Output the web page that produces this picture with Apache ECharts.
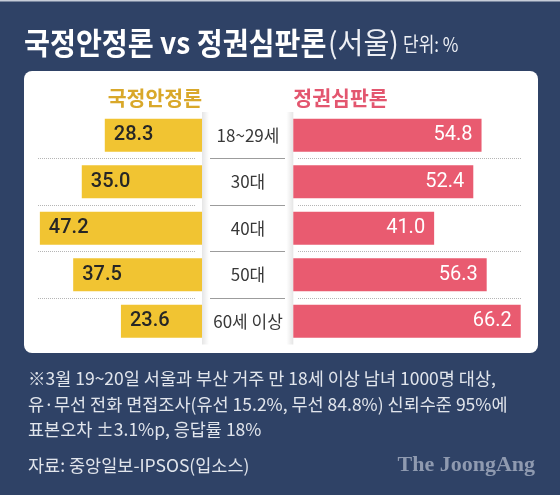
<!DOCTYPE html>
<html>
<head>
<meta charset="utf-8">
<script src="https://cdn.jsdelivr.net/npm/echarts@6/dist/echarts.min.js"></script>
<style>
html,body{margin:0;padding:0;background:#2f4266;}
#chart{width:560px;height:495px;}
</style>
</head>
<body>
<div id="chart"></div>
<script>
const categories = ['18~29세', '30대', '40대', '50대', '60세 이상'];
const stabilityValues = [28.3, 35.0, 47.2, 37.5, 23.6];   // 국정안정론
const judgmentValues = [54.8, 52.4, 41.0, 56.3, 66.2];    // 정권심판론
const seriesNames = ['국정안정론', '정권심판론'];
const titleMain = '국정안정론 vs 정권심판론';
const titleRegion = '(서울)';
const titleUnit = '단위: %';
const footnoteLines = [
  '※3월 19~20일 서울과 부산 거주 만 18세 이상 남녀 1000명 대상,',
  '유·무선 전화 면접조사(유선 15.2%, 무선 84.8%) 신뢰수준 95%에',
  '표본오차 ±3.1%p, 응답률 18%'
];
const sourceText = '자료: 중앙일보-IPSOS(입소스)';
const logoText = 'The JoongAng';

const FONT = "Roboto, 'Noto Sans CJK KR', sans-serif";
const KFONT = "'Noto Sans CJK KR', sans-serif";
const YELLOW = '#f1c432';
const PINK = '#e95b70';

const chart = echarts.init(document.getElementById('chart'), null, {renderer: 'canvas'});

const TOP = 112, HEIGHT = 232.5;
const UNIT = 3.435;
const LEFT_MAX = 50, RIGHT_MAX = 70;
const leftEdge = 202;
const rightStart = 293.3;

function catAxis(grid, extra) {
  return Object.assign({
    type: 'category', gridIndex: grid, data: categories, inverse: true,
    axisLine: {show: false}, axisTick: {show: false}, axisLabel: {show: false},
    splitLine: {show: false}
  }, extra || {});
}
function valAxis(grid, extra) {
  return Object.assign({
    type: 'value', gridIndex: grid, show: false, min: 0, max: 1
  }, extra || {});
}
function sepAxis(grid, lineStyle) {
  return catAxis(grid, {
    splitLine: {show: true, showMinLine: false, showMaxLine: false, lineStyle: lineStyle}
  });
}

const option = {
  backgroundColor: '#2f4266',
  animation: false,
  grid: [
    {left: leftEdge - LEFT_MAX * UNIT, width: LEFT_MAX * UNIT, top: TOP, height: HEIGHT},
    {left: rightStart, width: RIGHT_MAX * UNIT, top: TOP, height: HEIGHT},
    {left: 38, width: 157, top: TOP, height: HEIGHT},
    {left: 210, width: 75, top: TOP, height: HEIGHT},
    {left: 298, width: 224, top: TOP, height: HEIGHT}
  ],
  xAxis: [
    valAxis(0, {min: 0, max: LEFT_MAX, inverse: true}),
    valAxis(1, {min: 0, max: RIGHT_MAX}),
    valAxis(2), valAxis(3), valAxis(4)
  ],
  yAxis: [
    catAxis(0),
    catAxis(1, {
      axisLabel: {
        show: true, align: 'center', margin: rightStart - 248,
        color: '#383838', fontSize: 17, fontFamily: KFONT
      }
    }),
    sepAxis(2, {color: '#b5b5b5', type: 'dotted', width: 1}),
    sepAxis(3, {color: '#9c9c9c', type: 'solid', width: 1}),
    sepAxis(4, {color: '#b5b5b5', type: 'dotted', width: 1})
  ],
  series: [
    {
      name: seriesNames[0], type: 'bar', xAxisIndex: 0, yAxisIndex: 0,
      data: stabilityValues, barWidth: 33, z: 3,
      itemStyle: {color: YELLOW},
      label: {
        show: true, position: 'insideLeft', distance: 9,
        color: '#262626', fontSize: 20, fontWeight: 500, fontFamily: FONT,
        formatter: p => p.value.toFixed(1)
      }
    },
    {
      name: seriesNames[1], type: 'bar', xAxisIndex: 1, yAxisIndex: 1,
      data: judgmentValues, barWidth: 33, z: 3,
      itemStyle: {color: PINK},
      label: {
        show: true, position: 'insideRight', distance: 9,
        color: '#ffffff', fontSize: 20, fontWeight: 'normal', fontFamily: FONT,
        formatter: p => p.value.toFixed(1)
      }
    }
  ],
  graphic: [
    {type: 'rect', z: -10, shape: {x: 0, y: 0, width: 560, height: 1.5}, style: {fill: '#c6ccd8'}},
    {type: 'rect', z: -5, shape: {x: 24, y: 71, width: 514, height: 282, r: 8}, style: {fill: '#ffffff'}},
    {type: 'rect', z: -4, shape: {x: 202, y: TOP, width: 7, height: HEIGHT},
      style: {fill: new echarts.graphic.LinearGradient(0, 0, 1, 0, [
        {offset: 0, color: 'rgba(0,0,0,0.10)'}, {offset: 1, color: 'rgba(0,0,0,0)'}])}},
    {type: 'rect', z: -4, shape: {x: 286.3, y: TOP, width: 7, height: HEIGHT},
      style: {fill: new echarts.graphic.LinearGradient(0, 0, 1, 0, [
        {offset: 0, color: 'rgba(0,0,0,0)'}, {offset: 1, color: 'rgba(0,0,0,0.10)'}])}},
    {
      type: 'text', z: 10, x: 24, y: 43, scaleX: 0.94,
      style: {text: titleMain, fill: '#ffffff', font: "bold 30px 'Noto Sans CJK KR'", align: 'left', verticalAlign: 'middle'}
    },
    {
      type: 'text', z: 10, x: 328, y: 43, scaleX: 0.97,
      style: {text: titleRegion, fill: '#eef0f5', font: "29px 'Noto Sans CJK KR'", align: 'left', verticalAlign: 'middle'}
    },
    {
      type: 'text', z: 10, x: 403, y: 44.5, scaleX: 0.85,
      style: {text: titleUnit, fill: '#eef0f5', font: "20px 'Noto Sans CJK KR'", align: 'left', verticalAlign: 'middle'}
    },
    {
      type: 'text', z: 10, x: leftEdge, y: 98,
      style: {text: seriesNames[0], fill: '#d9a82a', font: "bold 20.5px 'Noto Sans CJK KR'", align: 'right', verticalAlign: 'middle'}
    },
    {
      type: 'text', z: 10, x: rightStart, y: 98,
      style: {text: seriesNames[1], fill: '#e3566f', font: "bold 20.5px 'Noto Sans CJK KR'", align: 'left', verticalAlign: 'middle'}
    },
    {
      type: 'text', z: 10, x: 28, y: 378.5 - 12.75,
      style: {text: footnoteLines.join('\n'), fill: '#e1e5ec', font: "17.5px 'Noto Sans CJK KR'", lineHeight: 25.5, align: 'left', verticalAlign: 'top'}
    },
    {
      type: 'text', z: 10, x: 28, y: 465.5,
      style: {text: sourceText, fill: '#e1e5ec', font: "17.5px 'Noto Sans CJK KR'", align: 'left', verticalAlign: 'middle'}
    },
    {
      type: 'text', z: 10, x: 535, y: 465,
      style: {text: logoText, fill: '#8f9ab0', font: "bold 22px 'Liberation Serif'", align: 'right', verticalAlign: 'middle'}
    }
  ]
};
chart.setOption(option);
</script>
</body>
</html>
